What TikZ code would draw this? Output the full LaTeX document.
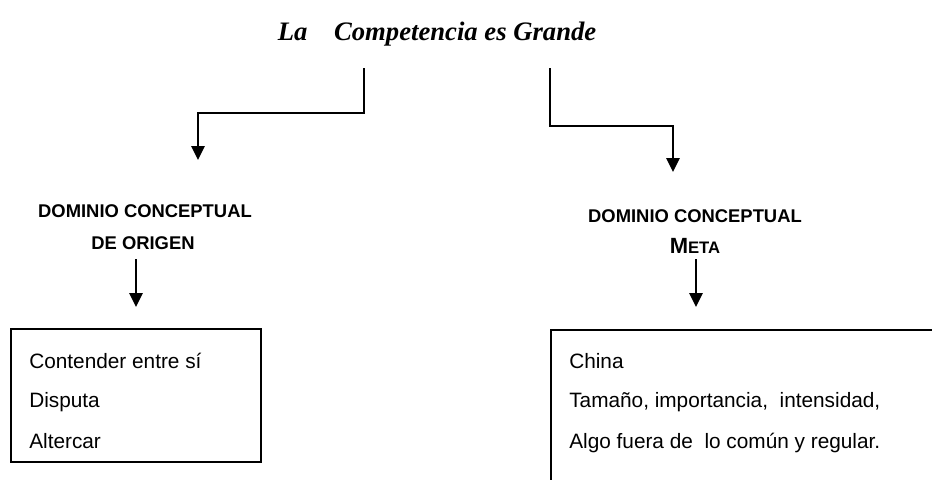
\documentclass[tikz,border=0pt]{standalone}
\usepackage{fontspec}
\setmainfont{Liberation Serif}
\setsansfont{Liberation Sans}
\usetikzlibrary{arrows.meta}
\begin{document}
\begin{tikzpicture}[x=0.75pt,y=-0.75pt,
  arr/.style={line width=1.3pt,-{Triangle[width=10pt,length=10.5pt]}},
  boxframe/.style={draw,line width=1.2pt,rectangle,inner sep=0pt},
  lbl/.style={font=\sffamily\bfseries\fontsize{13.8}{16}\selectfont,anchor=base,inner sep=0pt},
  itemtxt/.style={font=\sffamily\fontsize{15.6}{18}\selectfont,anchor=base west,inner sep=0pt},
  ttl/.style={font=\rmfamily\bfseries\itshape\fontsize{20}{24}\selectfont,anchor=base,inner sep=0pt}]
\useasboundingbox (0,0) rectangle (932,479);
\clip (0,0) rectangle (932,479);
\fill[white] (0,0) rectangle (932,479);
% title
\node[ttl] (title) at (437,40) {La\ \ \ \ Competencia es Grande};
% top connectors
\coordinate (sL) at (364,68);
\coordinate (sR) at (550,68);
\coordinate (tL) at (198,160);
\coordinate (tR) at (673,172);
\draw[arr] (sL) -- (364,113) -| (tL);
\draw[arr] (sR) -- (550,126) -| (tR);
% labels
\node[lbl] (labL1) at (145,217) {DOMINIO CONCEPTUAL};
\node[lbl] (labL2) at (143,249) {DE ORIGEN};
\node[lbl] (labR1) at (695,222) {DOMINIO CONCEPTUAL};
\node[lbl] (labR2) at (695,253) {{\fontsize{16.5}{18}\selectfont M}{\fontsize{12.5}{14}\selectfont ETA}};
% boxes
\node[boxframe,minimum width=250*0.75pt,minimum height=133*0.75pt] (boxL) at (136,395.5) {};
\node[boxframe,minimum width=500*0.75pt,minimum height=300*0.75pt,anchor=north west] (boxR) at (550,329) {};
% lower arrows
\coordinate (aL) at (136,259);
\coordinate (aR) at (696,259);
\coordinate (bL) at (136,307);
\coordinate (bR) at (696,307);
\draw[arr] (aL) -- (bL);
\draw[arr] (aR) -- (bR);
% box texts
\node[itemtxt] (l1) at (29,368) {Contender entre sí};
\node[itemtxt] (l2) at (29,407) {Disputa};
\node[itemtxt] (l3) at (29,448) {Altercar};
\node[itemtxt] (r1) at (569,368) {China};
\node[itemtxt] (r2) at (569,407) {Tamaño, importancia,\ \ intensidad,};
\node[itemtxt] (r3) at (569,448) {Algo fuera de\ \ lo común y regular.};
\end{tikzpicture}
\end{document}
